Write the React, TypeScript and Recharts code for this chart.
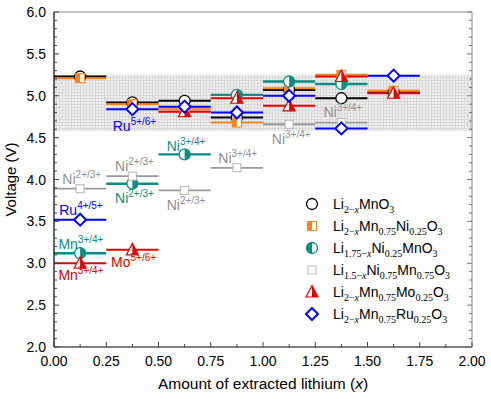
import React from 'react';
import {
  ComposedChart, Line, Scatter, XAxis, YAxis, ReferenceArea,
} from 'recharts';

// segment edges along x (amount of extracted lithium)
const segEdges = [0, 0.25, 0.5, 0.75, 1.0, 1.25, 1.5, 1.75];

// plateau voltages, one per 0.25 segment
const mno3 = [5.23, 4.92, 4.94, 4.74, 5.07, 4.97, 5.04];
const mnNi = [5.21, 4.90, 4.84, 4.68, 5.09, 5.25, 5.06];
const niMnO3 = [3.12, 3.95, 4.30, 5.01, 5.17, 5.14];
const niMn = [3.89, 4.04, 3.87, 4.14, 4.66, 4.68];
const mnMo = [3.00, 3.16, 4.81, 4.97, 4.88, 5.23, 5.03];
const mnRu = [3.52, 4.84, 4.87, 4.80, 5.00, 4.61, 5.24];

// high-voltage window shown as a hatched band
const bandLow = 4.58;
const bandHigh = 5.25;

const xMajor = [0, 0.25, 0.5, 0.75, 1.0, 1.25, 1.5, 1.75, 2.0];
const xMinor = [0.125, 0.375, 0.625, 0.875, 1.125, 1.375, 1.625, 1.875];
const yMajor = [2.0, 2.5, 3.0, 3.5, 4.0, 4.5, 5.0, 5.5, 6.0];
const yMinor = [2.1, 2.2, 2.3, 2.4, 2.6, 2.7, 2.8, 2.9, 3.1, 3.2, 3.3, 3.4, 3.6, 3.7, 3.8, 3.9,
  4.1, 4.2, 4.3, 4.4, 4.6, 4.7, 4.8, 4.9, 5.1, 5.2, 5.3, 5.4, 5.6, 5.7, 5.8, 5.9];

// redox couple annotations: x/y = left end of text, baseline
const annX = [0.281, 0.539, 0.04, 0.292, 0.292, 0.539, 0.786, 1.042, 1.289, 0.025, 0.021, 0.021, 0.273];
const annY = [4.58, 4.34, 3.946, 4.105, 3.723, 3.636, 4.193, 4.424, 4.743, 3.576, 3.167, 2.80, 2.952];
const annEl = ['Ru', 'Ni', 'Ni', 'Ni', 'Ni', 'Ni', 'Ni', 'Ni', 'Ni', 'Ru', 'Mn', 'Mn', 'Mo'];
const annSup = ['5+/6+', '3+/4+', '2+/3+', '2+/3+', '2+/3+', '2+/3+', '3+/4+', '3+/4+', '3+/4+', '4+/5+', '3+/4+', '3+/4+', '5+/6+'];
const annKind = ['ru', 'ni', 'gray', 'gray', 'ni', 'gray', 'gray', 'gray', 'gray', 'ru', 'ni', 'mo', 'mo'];

const C = {
  black: '#000000',
  orange: '#f5861f',
  teal: '#0b8c82',
  gray: '#9a9a9a',
  red: '#e00000',
  blue: '#0000ff',
};
const annColor: Record<string, string> = { ru: C.blue, ni: C.teal, gray: '#8f8f8f', mo: C.red };

const FONT = '"Liberation Sans", Arial, sans-serif';

const toSteps = (vals: number[]) => {
  const out: { x: number; y: number | null }[] = [];
  vals.forEach((v, i) => {
    if (i > 0) out.push({ x: segEdges[i], y: null });
    out.push({ x: segEdges[i], y: v });
    out.push({ x: segEdges[i + 1], y: v });
  });
  return out;
};
const toMids = (vals: number[]) => vals.map((v, i) => ({ x: (segEdges[i] + segEdges[i + 1]) / 2, y: v }));

// marker shapes
const OpenCircle = ({ cx, cy }: any) => (
  <circle cx={cx} cy={cy} r={5.5} fill="#fff" stroke={C.black} strokeWidth={1.3} />
);
const HalfSquare = ({ cx, cy }: any) => (
  <g>
    <rect x={cx - 4.5} y={cy - 4.5} width={9} height={9} fill="#fff" stroke={C.orange} strokeWidth={1} />
    <rect x={cx - 4.5} y={cy - 4.5} width={4.5} height={9} fill={C.orange} />
  </g>
);
const HalfCircle = ({ cx, cy, left }: any) => (
  <g>
    <circle cx={cx} cy={cy} r={5.5} fill="#fff" stroke={C.teal} strokeWidth={1.3} />
    <path d={left
      ? `M${cx},${cy - 5.5} A5.5,5.5 0 0 0 ${cx},${cy + 5.5} Z`
      : `M${cx},${cy - 5.5} A5.5,5.5 0 0 1 ${cx},${cy + 5.5} Z`} fill={C.teal} />
  </g>
);
const OpenSquare = ({ cx, cy }: any) => (
  <rect x={cx - 4} y={cy - 4} width={8} height={8} fill="#fff" stroke="#b5b5b5" strokeWidth={1} />
);
const HalfTriangle = ({ cx, cy }: any) => (
  <g>
    <path d={`M${cx},${cy - 6.5} L${cx + 6},${cy + 5} L${cx - 6},${cy + 5} Z`} fill="#fff" stroke={C.red} strokeWidth={1.2} />
    <path d={`M${cx},${cy - 6.5} L${cx + 6},${cy + 5} L${cx},${cy + 5} Z`} fill={C.red} />
  </g>
);
const OpenDiamond = ({ cx, cy }: any) => (
  <path d={`M${cx},${cy - 6} L${cx + 6},${cy} L${cx},${cy + 6} L${cx - 6},${cy} Z`} fill="#fff" stroke={C.blue} strokeWidth={2} />
);

const series = [
  { key: 'mno3', vals: mno3, color: C.black, width: 2, Shape: OpenCircle },
  { key: 'mnNi', vals: mnNi, color: C.orange, width: 2, Shape: HalfSquare },
  { key: 'niMnO3', vals: niMnO3, color: C.teal, width: 2.4, Shape: HalfCircle },
  { key: 'niMn', vals: niMn, color: C.gray, width: 1.8, Shape: OpenSquare },
  { key: 'mnMo', vals: mnMo, color: C.red, width: 2, Shape: HalfTriangle },
  { key: 'mnRu', vals: mnRu, color: C.blue, width: 2, Shape: OpenDiamond },
];

const annData = annX.map((x, i) => ({ x, y: annY[i], el: annEl[i], sup: annSup[i], kind: annKind[i] }));

const Annotation = (props: any) => {
  const { cx, cy, payload } = props;
  return (
    <text x={cx} y={cy} fill={annColor[payload.kind]} fontFamily={FONT} fontSize={14}>
      {payload.el}
      <tspan fontSize={10} dy={-6}>{payload.sup}</tspan>
    </text>
  );
};

const BottomTick = ({ x, y, payload }: any) => {
  const major = xMajor.includes(payload.value);
  return (
    <g>
      <line x1={x} x2={x} y1={y} y2={y - (major ? 5 : 3)} stroke="#444" />
      {major && (
        <text x={x} y={y + 19} textAnchor="middle" fontFamily={FONT} fontSize={14} fill="#000">
          {payload.value.toFixed(2)}
        </text>
      )}
    </g>
  );
};
const TopTick = ({ x, y, payload }: any) => {
  const major = xMajor.includes(payload.value);
  return <line x1={x} x2={x} y1={y} y2={y + (major ? 5 : 3)} stroke="#777" />;
};
const LeftTick = ({ x, y, payload }: any) => {
  const major = yMajor.includes(payload.value);
  return (
    <g>
      <line x1={x} x2={x + (major ? 5 : 3)} y1={y} y2={y} stroke="#444" />
      {major && (
        <text x={x - 8} y={y + 5} textAnchor="end" fontFamily={FONT} fontSize={14} fill="#000">
          {payload.value.toFixed(1)}
        </text>
      )}
    </g>
  );
};
const RightTick = ({ x, y, payload }: any) => {
  const major = yMajor.includes(payload.value);
  return <line x1={x} x2={x - (major ? 5 : 3)} y1={y} y2={y} stroke="#777" />;
};

const XTitle = ({ viewBox }: any) => (
  <text x={viewBox.x + viewBox.width / 2} y={viewBox.y + viewBox.height - 10} textAnchor="middle"
    fontFamily={FONT} fontSize={15.5} fill="#000">
    Amount of extracted lithium (<tspan fontStyle="italic">x</tspan>)
  </text>
);
const YTitle = ({ viewBox }: any) => {
  const cx = viewBox.x + 16;
  const cy = viewBox.y + viewBox.height / 2;
  return (
    <text x={cx} y={cy} transform={`rotate(-90 ${cx} ${cy})`} textAnchor="middle"
      fontFamily={FONT} fontSize={15} fill="#000">
      Voltage (V)
    </text>
  );
};

const legendItems = [
  { Shape: OpenCircle, label: <>Li<sub>2−<i>x</i></sub>MnO<sub>3</sub></> },
  { Shape: HalfSquare, label: <>Li<sub>2−<i>x</i></sub>Mn<sub>0.75</sub>Ni<sub>0.25</sub>O<sub>3</sub></> },
  { Shape: (p: any) => <HalfCircle {...p} left />, label: <>Li<sub>1.75−<i>x</i></sub>Ni<sub>0.25</sub>MnO<sub>3</sub></> },
  { Shape: OpenSquare, label: <>Li<sub>1.5−<i>x</i></sub>Ni<sub>0.75</sub>Mn<sub>0.75</sub>O<sub>3</sub></> },
  { Shape: HalfTriangle, label: <>Li<sub>2−<i>x</i></sub>Mn<sub>0.75</sub>Mo<sub>0.25</sub>O<sub>3</sub></> },
  { Shape: OpenDiamond, label: <>Li<sub>2−<i>x</i></sub>Mn<sub>0.75</sub>Ru<sub>0.25</sub>O<sub>3</sub></> },
];

const subStyle = `.lg sub{font-family:"Liberation Serif",serif;font-size:10px;vertical-align:-4px;line-height:0}`;

export default function App() {
  return (
    <div style={{ position: 'absolute', left: 0, top: 0, width: 491, height: 399, background: '#fff' }}>
      <style>{subStyle}</style>
      <ComposedChart width={491} height={399} margin={{ top: 0, right: 0, bottom: 0, left: 0 }}>
        <defs>
          <pattern id="band" width="3" height="3" patternUnits="userSpaceOnUse">
            <rect width="3" height="3" fill="#d9d9d9" />
            <rect width="2" height="2" fill="#efefef" />
          </pattern>
        </defs>
        <XAxis xAxisId={0} type="number" dataKey="x" domain={[0, 2]} allowDataOverflow
          ticks={[...xMajor, ...xMinor]} interval={0} height={52} tickSize={0} tickMargin={0}
          tick={<BottomTick />} axisLine={{ stroke: '#000', strokeWidth: 1.2 }} tickLine={false}
          label={{ content: XTitle }} />
        <XAxis xAxisId="top" orientation="top" type="number" domain={[0, 2]} allowDataOverflow
          ticks={[...xMajor, ...xMinor]} interval={0} height={12} tickSize={0} tickMargin={0}
          tick={<TopTick />} axisLine={{ stroke: '#888' }} tickLine={false} />
        <YAxis yAxisId={0} type="number" domain={[2, 6]} allowDataOverflow
          ticks={[...yMajor, ...yMinor]} interval={0} width={54} tickSize={0} tickMargin={0}
          tick={<LeftTick />} axisLine={{ stroke: '#000', strokeWidth: 1.2 }} tickLine={false}
          label={{ content: YTitle }} />
        <YAxis yAxisId="right" orientation="right" type="number" domain={[2, 6]} allowDataOverflow
          ticks={[...yMajor, ...yMinor]} interval={0} width={19} tickSize={0} tickMargin={0}
          tick={<RightTick />} axisLine={{ stroke: '#888' }} tickLine={false} />

        <ReferenceArea x1={0} x2={2} y1={bandLow} y2={bandHigh} fill="url(#band)" fillOpacity={1} stroke="none" ifOverflow="hidden" />

        {series.map((s) => [
          <Line key={s.key + '-l'} data={toSteps(s.vals)} dataKey="y" stroke={s.color} strokeWidth={s.width}
            dot={false} activeDot={false} connectNulls={false} isAnimationActive={false} type="linear" />,
          <Scatter key={s.key + '-m'} data={toMids(s.vals)} dataKey="y" shape={(p: any) => <s.Shape cx={p.cx} cy={p.cy} />}
            isAnimationActive={false} />,
        ])}

        <Scatter data={annData} dataKey="y" shape={<Annotation />} isAnimationActive={false} />
      </ComposedChart>

      <div className="lg" style={{ position: 'absolute', left: 304, top: 193, fontFamily: FONT, fontSize: 14, color: '#000' }}>
        {legendItems.map((it, i) => (
          <div key={i} style={{ display: 'flex', alignItems: 'center', height: 22 }}>
            <svg width={16} height={16} style={{ marginRight: 13 }}>
              <it.Shape cx={8} cy={8} />
            </svg>
            <span style={{ whiteSpace: 'nowrap' }}>{it.label}</span>
          </div>
        ))}
      </div>
    </div>
  );
}
